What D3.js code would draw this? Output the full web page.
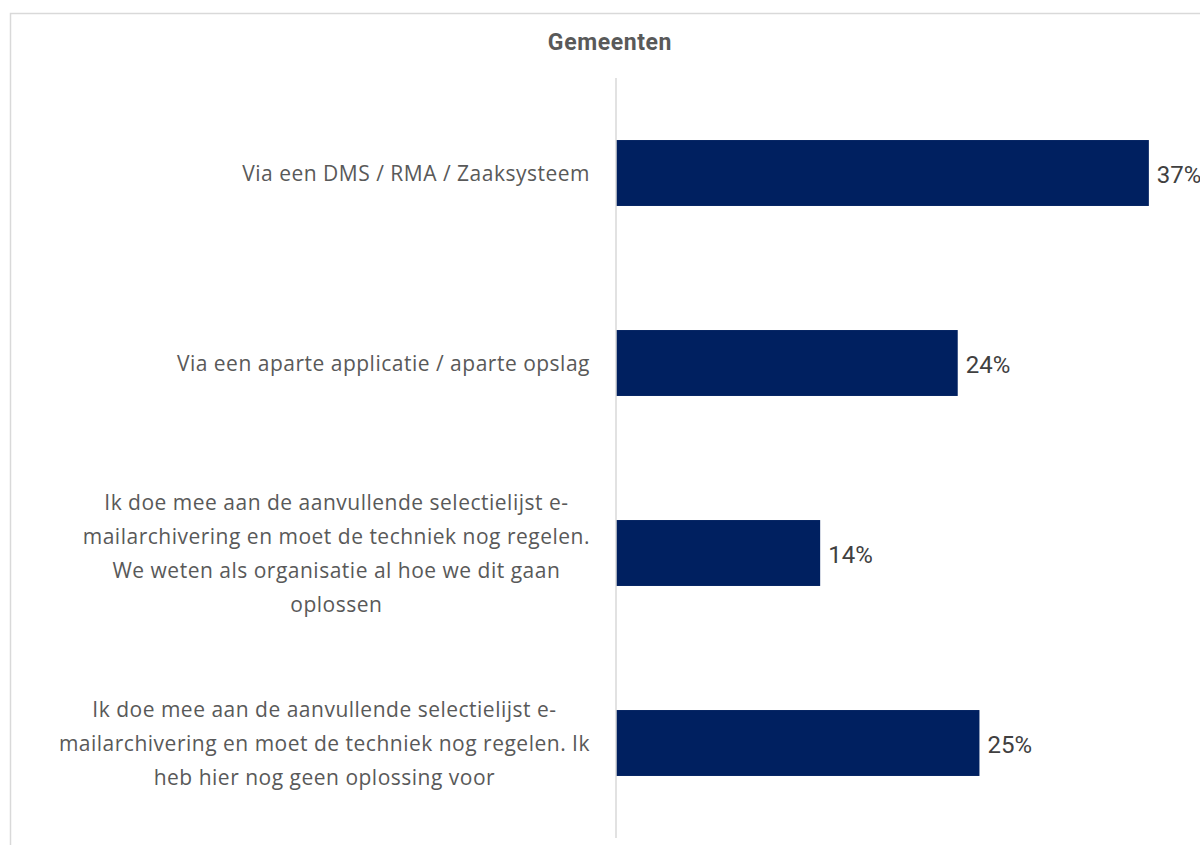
<!DOCTYPE html>
<html>
<head>
<meta charset="utf-8">
<script src="https://cdn.jsdelivr.net/npm/d3@7"></script>
<style>
  body { margin: 0; background: #fff; }
  svg { display: block; }
</style>
</head>
<body>
<svg id="chart"></svg>
<script>
// Chart data
const title = "Gemeenten";
const categories = [
    ["Via een DMS / RMA / Zaaksysteem"],
    ["Via een aparte applicatie / aparte opslag"],
    ["Ik doe mee aan de aanvullende selectielijst e-",
     "mailarchivering en moet de techniek nog regelen.",
     "We weten als organisatie al hoe we dit gaan",
     "oplossen"],
    ["Ik doe mee aan de aanvullende selectielijst e-",
     "mailarchivering en moet de techniek nog regelen. Ik",
     "heb hier nog geen oplossing voor"]
];
const values = [36.8, 23.6, 14.1, 25.1];
const valueLabels = ["37%", "24%", "14%", "25%"];

const width = 1200, height = 845;
const svg = d3.select("#chart").attr("width", width).attr("height", height);

// frame of the chart area (runs off the right and bottom edge)
svg.append("rect")
    .attr("x", 10.5).attr("y", 13.5)
    .attr("width", 1300).attr("height", 900)
    .attr("fill", "none")
    .attr("stroke", "#d9d9d9")
    .attr("stroke-width", 1.5);

const x = d3.scaleLinear().domain([0, 40]).range([616, 616 + 40 * 14.48]);
const y = d3.scaleBand()
    .domain(d3.range(categories.length))
    .range([78, 838])
    .paddingInner(0.653)
    .paddingOuter(0.3265);

svg.append("text")
    .attr("x", 610).attr("y", 50)
    .attr("text-anchor", "middle")
    .attr("font-family", "Roboto, sans-serif")
    .attr("font-weight", "bold")
    .attr("font-size", 23)
    .attr("letter-spacing", 0.6)
    .attr("fill", "#595959")
    .text(title);

// bars
svg.selectAll("rect.bar")
    .data(values)
    .enter()
    .append("rect")
    .attr("class", "bar")
    .attr("x", x(0))
    .attr("y", (d, i) => y(i))
    .attr("width", d => x(d) - x(0))
    .attr("height", y.bandwidth())
    .attr("fill", "#002060");

// vertical axis line
svg.append("line")
    .attr("x1", x(0)).attr("x2", x(0))
    .attr("y1", 78).attr("y2", 838)
    .attr("stroke", "#d9d9d9")
    .attr("stroke-width", 1.5);

// value labels
svg.selectAll("text.val")
    .data(values)
    .enter()
    .append("text")
    .attr("class", "val")
    .attr("x", d => x(d) + 8)
    .attr("y", (d, i) => y(i) + y.bandwidth() / 2)
    .attr("dy", "0.4em")
    .attr("font-family", "Roboto, sans-serif")
    .attr("font-size", 24)
    .attr("fill", "#404040")
    .text((d, i) => valueLabels[i]);

// category labels, wrapped lines centred as a block ending near the axis
const lineH = 34;
categories.forEach((lines, i) => {
    const g = svg.append("text")
        .attr("font-family", "'Open Sans', sans-serif")
        .attr("font-size", 21)
        .attr("letter-spacing", 0.5)
        .attr("fill", "#595959")
        .attr("text-anchor", "middle");
    const cy = y(i) + y.bandwidth() / 2;
    const top = cy - (lines.length - 1) * lineH / 2;
    const spans = lines.map((t, k) => g.append("tspan")
        .attr("y", top + k * lineH)
        .attr("dy", "0.36em")
        .text(t));
    const maxW = d3.max(spans, s => s.node().getComputedTextLength());
    spans.forEach(s => s.attr("x", 590 - maxW / 2));
});
</script>
</body>
</html>
